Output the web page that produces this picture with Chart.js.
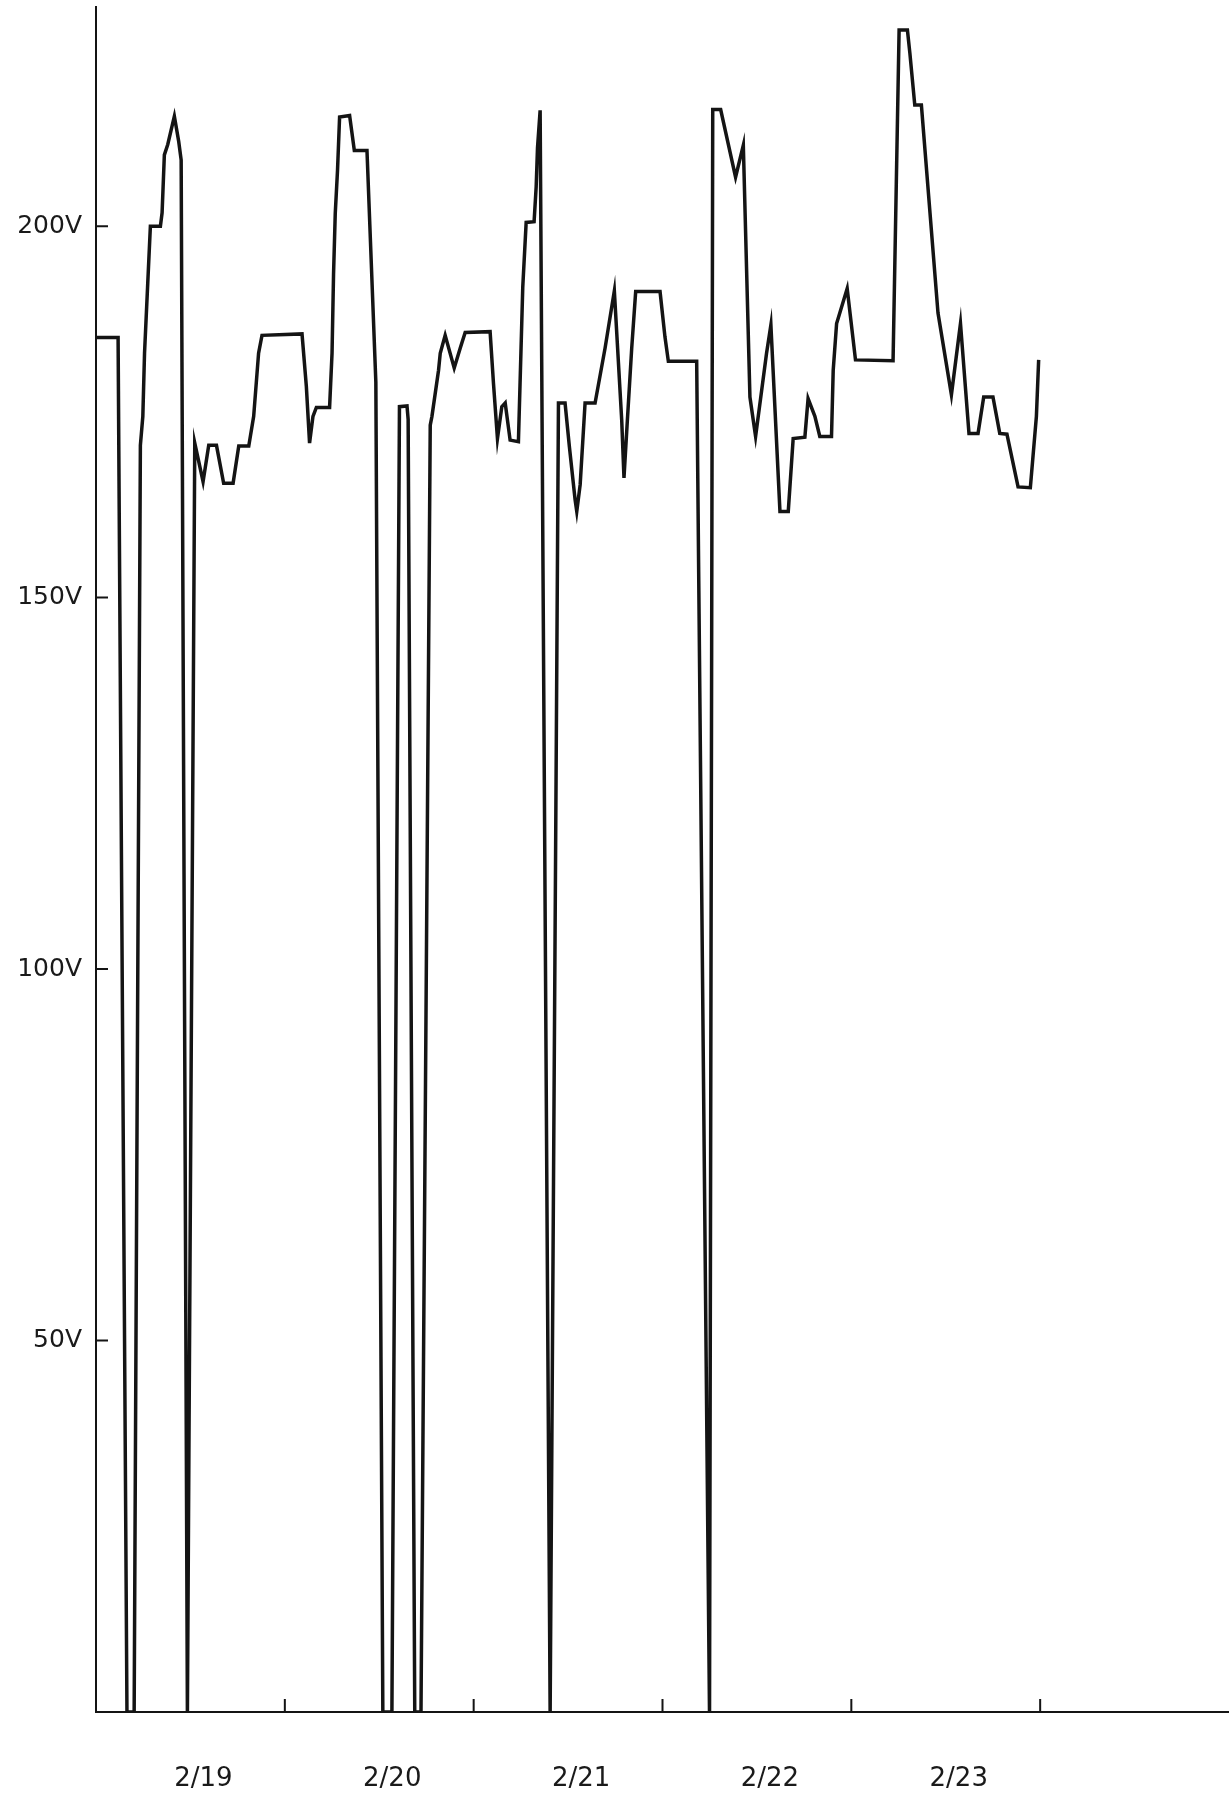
<!DOCTYPE html>
<html>
<head>
<meta charset="utf-8">
<title>Voltage 2/19 - 2/23</title>
<script src="https://cdn.jsdelivr.net/npm/chart.js@4.4.0/dist/chart.umd.min.js"></script>
<style>
  html, body { margin: 0; padding: 0; background: #fff; }
  #wrap { width: 1229px; height: 1796px; }
</style>
</head>
<body>
<div id="wrap"><canvas id="volts" width="1229" height="1796"></canvas></div>
<script>
// x labels sit in the middle of each day, tick marks at day boundaries
const dayLabels = ['2/19', '2/20', '2/21', '2/22', '2/23'];
const dayTicks = [1, 2, 3, 4, 5];
const yTickValues = [50, 100, 150, 200];

// time in days from start of 2/19
const days = [
    0.005, 0.117, 0.164, 0.202, 0.235, 0.248, 0.257, 0.274, 0.288, 0.341,
    0.350, 0.362, 0.380, 0.415, 0.438, 0.451, 0.484, 0.523, 0.567, 0.597,
    0.638, 0.676, 0.726, 0.756, 0.809, 0.835, 0.861, 0.879, 1.091, 1.114,
    1.131, 1.149, 1.167, 1.237, 1.250, 1.258, 1.267, 1.279, 1.290, 1.343,
    1.368, 1.435, 1.482, 1.519, 1.567, 1.607, 1.647, 1.653, 1.688, 1.721,
    1.770, 1.779, 1.814, 1.823, 1.849, 1.897, 1.929, 1.955, 2.087, 2.105,
    2.126, 2.149, 2.167, 2.193, 2.237, 2.260, 2.278, 2.320, 2.331, 2.338,
    2.352, 2.405, 2.449, 2.484, 2.507, 2.537, 2.546, 2.564, 2.590, 2.643,
    2.696, 2.745, 2.784, 2.796, 2.814, 2.837, 2.858, 2.987, 3.013, 3.031,
    3.181, 3.249, 3.266, 3.308, 3.387, 3.428, 3.463, 3.493, 3.551, 3.574,
    3.622, 3.666, 3.692, 3.754, 3.771, 3.807, 3.833, 3.895, 3.904, 3.922,
    3.978, 4.022, 4.221, 4.253, 4.297, 4.310, 4.336, 4.371, 4.459, 4.530,
    4.578, 4.623, 4.671, 4.701, 4.750, 4.786, 4.824, 4.883, 4.948, 4.980,
    4.992
];
// voltage (V)
const volts = [
    185, 185, 0, 0, 170.5, 174.4, 182.9, 192.3, 200, 200,
    201.8, 209.6, 211, 214.8, 211.4, 208.9, 0, 170.8, 165.6, 170.5,
    170.5, 165.4, 165.4, 170.4, 170.4, 174.4, 182.9, 185.3, 185.5, 178.4,
    170.8, 174.4, 175.6, 175.6, 182.9, 193.6, 201.7, 207.5, 214.7, 214.9,
    210.2, 210.2, 179, 0, 0, 175.7, 175.8, 174, 0, 0,
    173.2, 174.4, 180.6, 182.9, 185.3, 180.9, 183.6, 185.7, 185.8, 178.8,
    171.4, 175.7, 176.2, 171.2, 171.0, 191.8, 200.5, 200.6, 205.3, 210.5,
    215.6, 0, 176.2, 176.2, 170.3, 163.2, 161.6, 165.2, 176.2, 176.2,
    183.6, 191.3, 173.9, 166.1, 173.9, 183.6, 191.2, 191.2, 185.1, 181.8,
    181.8, 0, 215.7, 215.7, 206.6, 210.9, 177.0, 171.7, 182.9, 186.7,
    161.6, 161.6, 171.4, 171.6, 176.8, 174.4, 171.7, 171.7, 180.6, 186.9,
    191.6, 182.0, 181.9, 226.4, 226.4, 223.3, 216.3, 216.3, 188.3, 177.3,
    186.9, 172.1, 172.1, 177.0, 177.0, 172.1, 172.0, 164.9, 164.8, 174.4,
    182.0
];

const ink = '#141414';

// short tick marks drawn on the inside of both axes
const innerTicks = {
    id: 'innerTicks',
    afterDraw(chart) {
        const ctx = chart.ctx;
        const x = chart.scales.x;
        const y = chart.scales.y;
        ctx.save();
        ctx.strokeStyle = ink;
        ctx.lineWidth = 2;
        ctx.beginPath();
        dayTicks.forEach(d => {
            const px = x.getPixelForValue(d);
            ctx.moveTo(px, y.bottom);
            ctx.lineTo(px, y.bottom - 13);
        });
        yTickValues.forEach(v => {
            const py = y.getPixelForValue(v);
            ctx.moveTo(x.left, py);
            ctx.lineTo(x.left + 12, py);
        });
        ctx.stroke();
        ctx.restore();
    }
};

new Chart(document.getElementById('volts'), {
    type: 'line',
    data: {
        datasets: [{
            label: 'Voltage',
            data: days.map((d, i) => ({ x: d, y: volts[i] })),
            borderColor: ink,
            borderWidth: 3.5,
            pointRadius: 0,
            tension: 0,
            fill: false
        }]
    },
    options: {
        responsive: false,
        animation: false,
        devicePixelRatio: 1,
        layout: { padding: { top: 7, right: 0, left: 0, bottom: 0 } },
        plugins: {
            legend: { display: false },
            tooltip: { enabled: false }
        },
        scales: {
            x: {
                type: 'linear',
                min: 0,
                max: 6,
                grid: { display: false, drawTicks: false },
                border: { color: ink, width: 2 },
                afterBuildTicks: axis => {
                    axis.ticks = dayLabels.map((l, i) => ({ value: i + 0.5 }));
                },
                afterFit: scale => {
                    scale.height = 84;
                    scale.paddingLeft = 0;
                    scale.paddingRight = 0;
                },
                ticks: {
                    callback: (v, i) => dayLabels[i],
                    labelOffset: 13,
                    padding: 52,
                    maxRotation: 0,
                    autoSkip: false,
                    color: '#1a1a1a',
                    font: { family: 'DejaVu Sans', size: 26 }
                }
            },
            y: {
                min: 0,
                max: 229.5,
                grid: { display: false, drawTicks: false },
                border: { color: ink, width: 2 },
                afterBuildTicks: axis => {
                    axis.ticks = yTickValues.map(v => ({ value: v }));
                },
                afterFit: scale => {
                    scale.width = 96;
                    scale.paddingTop = 0;
                    scale.paddingBottom = 0;
                },
                ticks: {
                    callback: v => v + 'V',
                    padding: 14,
                    color: '#1a1a1a',
                    font: { family: 'DejaVu Sans', size: 25 }
                }
            }
        }
    },
    plugins: [innerTicks]
});
</script>
</body>
</html>
